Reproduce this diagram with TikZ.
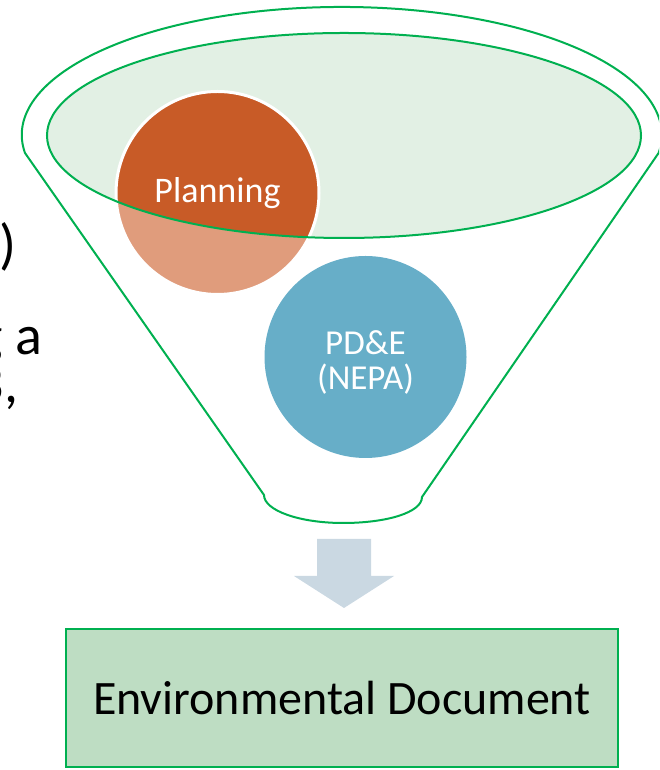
\documentclass[tikz,border=0pt]{standalone}
\usepackage{fontspec}
\setmainfont{Carlito}
\definecolor{fgreen}{HTML}{00B050}
\definecolor{ellfill}{HTML}{E2F0E4}
\definecolor{pdark}{HTML}{C85B27}
\definecolor{plight}{HTML}{E09C7C}
\definecolor{pdeblue}{HTML}{67AEC8}
\definecolor{arrowgray}{HTML}{CAD8E2}
\definecolor{boxfill}{HTML}{BEDDC3}
\begin{document}
\begin{tikzpicture}[x=1pt,y=1pt,
  funnelline/.style={draw=fgreen, line width=2pt},
  bigtext/.style={font=\fontsize{48}{56}\selectfont, text=black},
  slidetext/.style={font=\fontsize{56}{64}\selectfont, text=black, inner sep=0pt},
  circtext/.style={font=\fontsize{35}{35}\selectfont, text=white},
  bubble/.style={circle, inner sep=0pt}]
\useasboundingbox (0,0) rectangle (659,770);
\clip (0,0) rectangle (659,770);
% clipped slide text at the left edge
\node[slidetext, anchor=base west] (fragA) at (-1,506) {)};
\node[slidetext, anchor=base east] (fragB) at (43,415) {g a};
\node[slidetext, anchor=base east] (fragC) at (18.5,367) {3,};
% funnel outline
\draw[funnelline] (25,617) arc[start angle=188.1, end angle=-8.1, x radius=320, y radius=128]
  -- (422,273) .. controls (422,257.5) and (386.6,247) .. (343,247)
  .. controls (299.4,247) and (264,259.5) .. (264,275) -- cycle;
% inner opening
\fill[ellfill] (344,634.5) ellipse[x radius=297, y radius=102.5];
% planning bubble (darker where it lies inside the opening)
\node[bubble, minimum size=203, fill=plight] (plan) at (217.5,577) {};
\begin{scope}
  \clip (344,634.5) ellipse[x radius=297, y radius=102.5];
  \fill[pdark] (plan.center) circle[radius=101.5];
\end{scope}
\draw[white, line width=3pt] (plan.center) circle[radius=101.5];
\draw[funnelline] (344,634.5) ellipse[x radius=297, y radius=102.5];
\node[circtext, font=\fontsize{36}{36}\selectfont, inner sep=0pt] (plantext) at (plan.center) {Planning};
% PD&E bubble
\node[bubble, minimum size=202, fill=pdeblue] (pde) at (365.5,413) {};
\node[circtext, align=center, inner sep=0pt] (pdetext) at (365.5,408) {PD\&E\\(NEPA)};
% block arrow
\fill[arrowgray] (317,231) -- (371,231) -- (371,194) -- (394,194) -- (344,162) -- (294,194) -- (317,194) -- cycle;
% result box
\node[rectangle, draw=fgreen, line width=1.5pt, fill=boxfill, minimum width=552, minimum height=138, bigtext] (doc) at (342,72) {Environmental Document};
\end{tikzpicture}
\end{document}
